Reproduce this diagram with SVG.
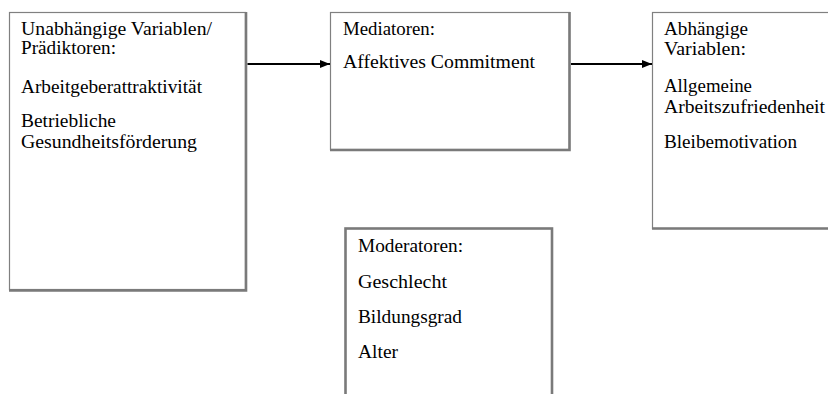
<svg xmlns="http://www.w3.org/2000/svg" width="828" height="394" viewBox="0 0 828 394">
<defs>
<style>
.box{fill:#fff;stroke:#808080;stroke-width:1.2}
.sh{stroke:#7a7a7a;stroke-width:2.6;fill:none}
text{font-family:"Liberation Serif","Times New Roman",serif;font-size:18px;fill:#000}
.conn{stroke:#000;stroke-width:2;fill:none}
</style>
<marker id="ah" markerWidth="10" markerHeight="8" refX="10" refY="4" orient="auto" markerUnits="userSpaceOnUse">
<path d="M0,0 L10,4 L0,8 Z" fill="#000"/>
</marker>
</defs>
<rect width="828" height="394" fill="#fff"/>
<g id="node-iv">
<rect class="box" x="9.5" y="12.5" width="236" height="277"/>
<path class="sh" d="M246,12 V290.5 H9"/>
<text x="21" y="35" textLength="191" lengthAdjust="spacingAndGlyphs">Unabhängige Variablen/</text>
<text x="21" y="54" textLength="95" lengthAdjust="spacingAndGlyphs">Prädiktoren:</text>
<text x="21" y="93" textLength="181" lengthAdjust="spacingAndGlyphs">Arbeitgeberattraktivität</text>
<text x="21" y="127" textLength="95" lengthAdjust="spacingAndGlyphs">Betriebliche</text>
<text x="21" y="148" textLength="176" lengthAdjust="spacingAndGlyphs">Gesundheitsförderung</text>
</g>
<g id="node-med">
<rect class="box" x="330.5" y="12.5" width="239" height="137"/>
<path class="sh" d="M569.5,12 V150 H330"/>
<text x="343" y="35" textLength="92" lengthAdjust="spacingAndGlyphs">Mediatoren:</text>
<text x="343" y="68" textLength="192" lengthAdjust="spacingAndGlyphs">Affektives Commitment</text>
</g>
<g id="node-dv">
<rect class="box" x="652.5" y="12.5" width="190" height="216"/>
<path class="sh" d="M652,228.5 H830"/>
<text x="664" y="35" textLength="84" lengthAdjust="spacingAndGlyphs">Abhängige</text>
<text x="664" y="55" textLength="82" lengthAdjust="spacingAndGlyphs">Variablen:</text>
<text x="664" y="92" textLength="88" lengthAdjust="spacingAndGlyphs">Allgemeine</text>
<text x="664" y="113" textLength="161" lengthAdjust="spacingAndGlyphs">Arbeitszufriedenheit</text>
<text x="664" y="148" textLength="133" lengthAdjust="spacingAndGlyphs">Bleibemotivation</text>
</g>
<g id="node-mod">
<rect x="345.5" y="228.5" width="206.5" height="180" fill="#fff" stroke="#7a7a7a" stroke-width="2.6"/>
<text x="358" y="252" textLength="105" lengthAdjust="spacingAndGlyphs">Moderatoren:</text>
<text x="358" y="288" textLength="89" lengthAdjust="spacingAndGlyphs">Geschlecht</text>
<text x="358" y="323" textLength="104" lengthAdjust="spacingAndGlyphs">Bildungsgrad</text>
<text x="358" y="358" textLength="40" lengthAdjust="spacingAndGlyphs">Alter</text>
</g>
<g id="connectors">
<line class="conn" x1="247.5" y1="64" x2="330" y2="64" marker-end="url(#ah)"/>
<line class="conn" x1="571" y1="64" x2="652" y2="64" marker-end="url(#ah)"/>
</g>
</svg>
